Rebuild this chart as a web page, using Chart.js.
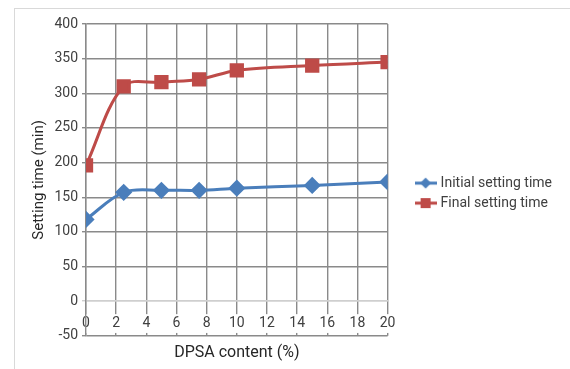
<!DOCTYPE html>
<html>
<head>
<meta charset="utf-8">
<script src="https://cdn.jsdelivr.net/npm/chart.js@4.4.1/dist/chart.umd.min.js"></script>
<style>
  body { margin: 0; background: #fff; }
  #wrap { position: relative; width: 570px; height: 369px; overflow: hidden; }
  #frame { position: absolute; left: 14px; top: 8px; width: 600px; height: 400px; border: 1px solid #d9d9d9; }
  canvas { position: absolute; left: 0; top: 0; }
</style>
</head>
<body>
<div id="wrap">
  <div id="frame"></div>
  <canvas id="chart" width="570" height="369"></canvas>
</div>
<script>
const content = [0, 2.5, 5, 7.5, 10, 15, 20];
const initialTime = [118, 157, 160, 160, 163, 167, 172];
const finalTime = [196, 310, 316, 320, 333, 340, 345];
const xTicks = [0, 2, 4, 6, 8, 10, 12, 14, 16, 18, 20];
const yTicks = [-50, 0, 50, 100, 150, 200, 250, 300, 350, 400];

const blue = "#4a7ebb";
const red = "#be4b48";
const gridColor = "#8a8a8a";
const axisColor = "#cfcfcf";

function legendIcon(color, style) {
  const c = document.createElement("canvas");
  c.width = 22; c.height = 14;
  const g = c.getContext("2d");
  g.strokeStyle = color; g.lineWidth = 3;
  g.beginPath(); g.moveTo(0, 7); g.lineTo(22, 7); g.stroke();
  g.fillStyle = color;
  g.beginPath();
  if (style === "diamond") {
    g.moveTo(11, 1.5); g.lineTo(16.5, 7); g.lineTo(11, 12.5); g.lineTo(5.5, 7);
  } else {
    g.rect(6, 2, 10, 10);
  }
  g.fill();
  return c;
}

async function draw() {
  try {
    await Promise.all([document.fonts.load("14px Roboto"), document.fonts.load("16px Roboto")]);
  } catch (e) {}
  const icons = [legendIcon(blue, "diamond"), legendIcon(red, "square")];

  new Chart(document.getElementById("chart"), {
    type: "line",
    data: {
      datasets: [
        {
          label: "Initial setting time",
          data: content.map((x, i) => ({ x, y: initialTime[i] })),
          borderColor: blue, backgroundColor: blue,
          borderWidth: 3, pointStyle: "rectRot", pointRadius: 6.5,
          tension: 0.35
        },
        {
          label: "Final setting time",
          data: content.map((x, i) => ({ x, y: finalTime[i] })),
          borderColor: red, backgroundColor: red,
          borderWidth: 3, pointStyle: "rect", pointRadius: 8,
          tension: 0.35
        }
      ]
    },
    options: {
      responsive: false,
      animation: false,
      layout: { padding: { top: 24, left: 26, right: 8, bottom: 0 } },
      scales: {
        x: {
          type: "linear",
          position: { y: 0 },
          min: 0, max: 20,
          afterBuildTicks: s => { s.ticks = xTicks.map(v => ({ value: v })); },
          grid: { color: gridColor, lineWidth: 1.4, drawTicks: false },
          border: { color: axisColor, width: 1.4 },
          ticks: {
            padding: 14, color: "#404040",
            font: { family: "Roboto", size: 14 },
            showLabelBackdrop: true, backdropColor: "#fff", backdropPadding: 1,
            maxRotation: 0
          }
        },
        xTitle: {
          type: "linear",
          position: "bottom",
          grid: { display: false },
          border: { display: false },
          ticks: { display: false },
          title: {
            display: true, text: "DPSA content (%)", color: "#262626",
            font: { family: "Roboto", size: 16 }, padding: { top: 0, bottom: 6 }
          }
        },
        y: {
          min: -50, max: 400,
          afterBuildTicks: s => { s.ticks = yTicks.map(v => ({ value: v })); },
          afterFit: s => { s.width = 60; },
          grid: {
            color: c => (c.tick && c.tick.value === 0 ? axisColor : gridColor),
            lineWidth: 1.4, tickLength: 4
          },
          border: { color: gridColor, width: 1.4 },
          ticks: { color: "#404040", font: { family: "Roboto", size: 14 }, padding: 4 },
          title: {
            display: true, text: "Setting time (min)", color: "#262626",
            font: { family: "Roboto", size: 15 }, padding: 4
          }
        },
        gap: {
          type: "linear",
          position: "right",
          afterFit: s => { s.width = 24; },
          grid: { display: false },
          border: { display: false },
          ticks: { display: false }
        }
      },
      plugins: {
        legend: {
          position: "right",
          fullSize: false,
          maxWidth: 220,
          title: { display: true, text: " ", font: { size: 12 }, padding: { top: 8, bottom: 4 } },
          labels: {
            usePointStyle: true, pointStyleWidth: 16,
            color: "#404040", font: { family: "Roboto", size: 14 }, padding: 6,
            generateLabels: chart => Chart.defaults.plugins.legend.labels.generateLabels(chart)
              .map((l, i) => Object.assign(l, { pointStyle: icons[i] }))
          }
        },
        tooltip: { enabled: false }
      }
    }
  });
}
draw();
</script>
</body>
</html>
